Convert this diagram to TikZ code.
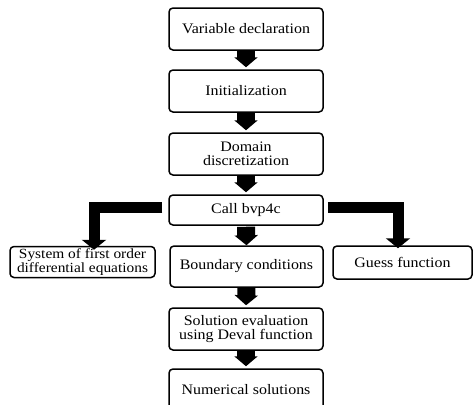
\documentclass[tikz,border=0pt]{standalone}
\usepackage{fontspec}
\setmainfont{Liberation Serif}[FakeStretch=1.1]
\usetikzlibrary{arrows.meta,calc}
\begin{document}
\begin{tikzpicture}[x=1pt,y=-1pt,
  box/.style={draw=black,line width=1.5pt,rounded corners=4pt,fill=white,
    align=center,inner sep=0pt,font=\fontsize{14.5}{13.5}\selectfont},
  blk/.style={line width=18pt,draw=black,
    -{Triangle[width=23pt,length=10pt]},shorten >=2pt},
  elb/.style={line width=11pt,draw=black,line join=miter,
    -{Triangle[width=24pt,length=10pt]}}]
\clip (0,0) rectangle (475,405);
\fill[white] (0,0) rectangle (475,405);
\node[box,minimum width=154pt,minimum height=42pt] (v) at (246,29) {Variable declaration};
\node[box,minimum width=154pt,minimum height=42pt] (i) at (246,91) {Initialization};
\node[box,minimum width=154pt,minimum height=42pt] (d) at (246,154) {Domain\\discretization};
\node[box,minimum width=154pt,minimum height=30pt] (c) at (246,210) {Call bvp4c};
\node[box,minimum width=145pt,minimum height=31pt,font=\fontsize{14}{12.5}\selectfont] (s) at (82.5,262) {System of first order\\differential equations};
\node[box,minimum width=153pt,minimum height=41pt] (b) at (246.5,266.5) {Boundary conditions};
\node[box,minimum width=139pt,minimum height=33pt] (g) at (402.5,262.5) {Guess function};
\node[box,minimum width=154pt,minimum height=42pt] (e) at (246,329) {Solution evaluation\\using Deval function};
\node[box,minimum width=154pt,minimum height=42pt] (n) at (246,390) {Numerical solutions};
\draw[blk] (v.south) -- (i.north);
\draw[blk] (i.south) -- (d.north);
\draw[blk] (d.south) -- (c.north);
\draw[blk] ([yshift=-1pt]c.south) -- ([yshift=-2pt]b.north);
\draw[blk] (b.south) -- (e.north);
\draw[blk] (e.south) -- (n.north);
\draw[elb] ([xshift=-6pt,yshift=3pt]c.west) -| ([xshift=11.5pt,yshift=-4pt]s.north);
\draw[elb] ([xshift=4pt,yshift=3pt]c.east) -| ([xshift=-4.5pt,yshift=-3pt]g.north);
\end{tikzpicture}
\end{document}
